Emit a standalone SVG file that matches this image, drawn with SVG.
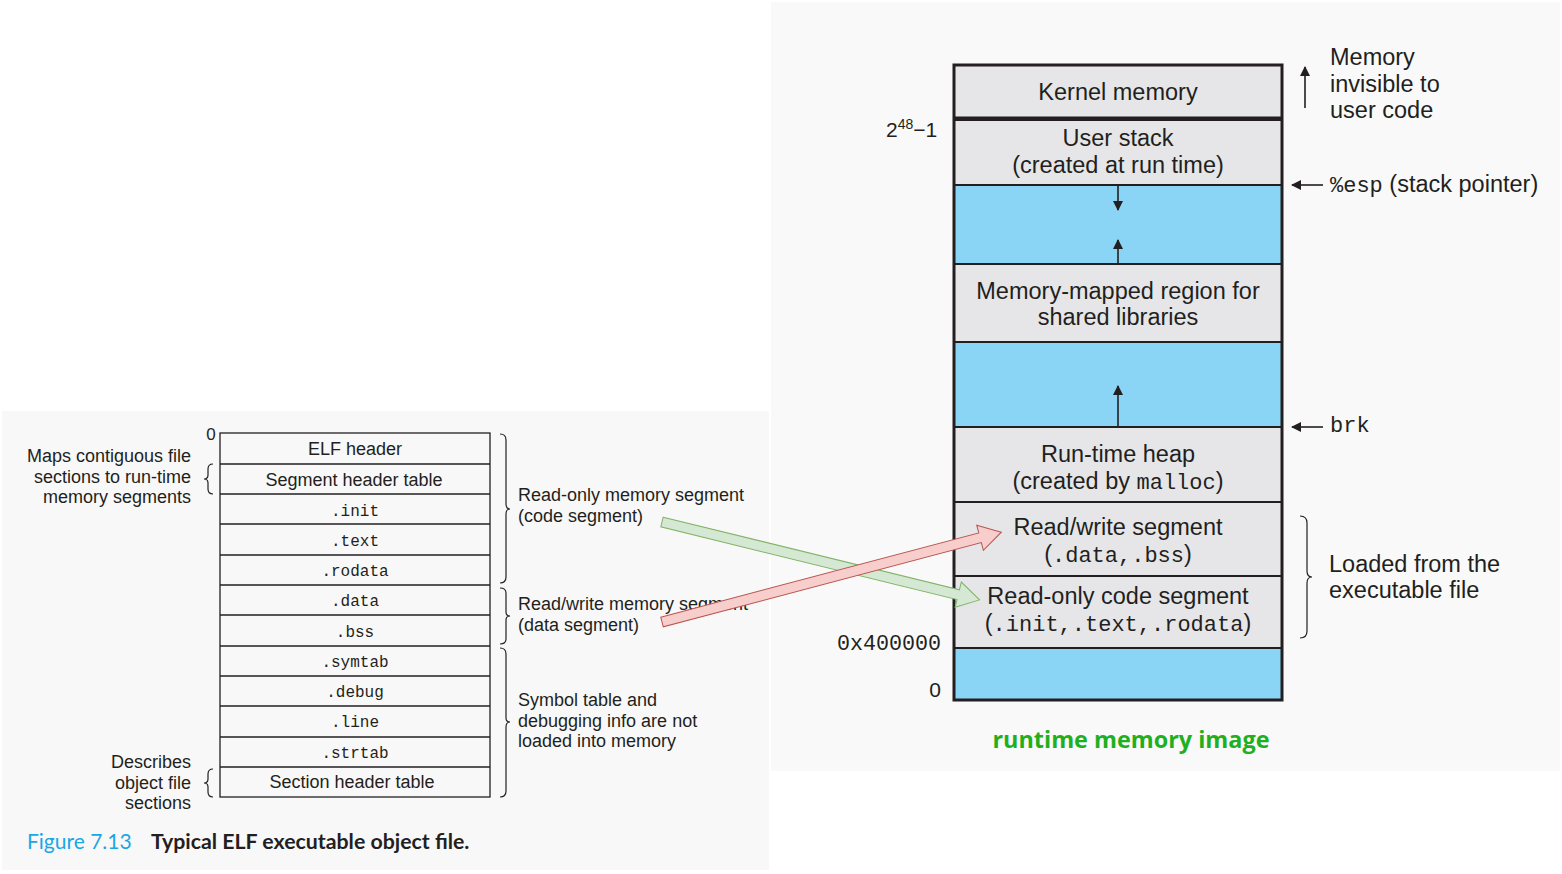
<svg xmlns="http://www.w3.org/2000/svg" width="1562" height="874" viewBox="0 0 1562 874">
<style>
.t{font-family:"Liberation Sans",Arial,sans-serif;fill:#231f20}
.m{font-family:"Liberation Mono","DejaVu Sans Mono",monospace;fill:#231f20}
.c{text-anchor:middle}
.r{text-anchor:end}
.cell{fill:none;stroke:#231f20;stroke-width:1.3}
.br{fill:none;stroke:#231f20;stroke-width:1.2}
.gray{fill:#e6e6e8;stroke:#231f20;stroke-width:2}
.blue{fill:#8ad4f5;stroke:#231f20;stroke-width:2}
.ln{stroke:#231f20;stroke-width:1.6;fill:none}
</style>
<defs>
<marker id="ah" viewBox="0 0 10 10" refX="9" refY="5" markerWidth="10" markerHeight="10" markerUnits="userSpaceOnUse" orient="auto"><path d="M0,0 L10,5 L0,10 z" fill="#231f20"/></marker>
</defs>
<rect x="0" y="0" width="1562" height="874" fill="#ffffff"/>
<rect x="2" y="411" width="767" height="459" fill="#f8f8f8"/>
<rect x="771" y="2" width="789" height="769" fill="#f9f9f9"/>

<g id="elf-table">
<text class="t" x="211" y="440" font-size="17" text-anchor="middle">0</text>
<rect class="cell" x="220" y="433" width="270" height="364"/>
<g class="cell">
<line x1="220" y1="464" x2="490" y2="464"/><line x1="220" y1="494" x2="490" y2="494"/>
<line x1="220" y1="524" x2="490" y2="524"/><line x1="220" y1="555" x2="490" y2="555"/>
<line x1="220" y1="585" x2="490" y2="585"/><line x1="220" y1="615" x2="490" y2="615"/>
<line x1="220" y1="646" x2="490" y2="646"/><line x1="220" y1="676" x2="490" y2="676"/>
<line x1="220" y1="706" x2="490" y2="706"/><line x1="220" y1="737" x2="490" y2="737"/>
<line x1="220" y1="767" x2="490" y2="767"/>
</g>
<text class="t c" x="355" y="455" font-size="18">ELF header</text>
<text class="t c" x="354" y="486" font-size="18">Segment header table</text>
<text class="m c" x="355" y="516" font-size="16">.init</text>
<text class="m c" x="355" y="546" font-size="16">.text</text>
<text class="m c" x="355" y="576" font-size="16">.rodata</text>
<text class="m c" x="355" y="606" font-size="16">.data</text>
<text class="m c" x="355" y="637" font-size="16">.bss</text>
<text class="m c" x="355" y="667" font-size="16">.symtab</text>
<text class="m c" x="355" y="697" font-size="16">.debug</text>
<text class="m c" x="355" y="727" font-size="16">.line</text>
<text class="m c" x="355" y="758" font-size="16">.strtab</text>
<text class="t c" x="352" y="788" font-size="18">Section header table</text>
</g>

<g id="left-labels">
<text class="t r" x="191" y="462" font-size="18">Maps contiguous file</text>
<text class="t r" x="191" y="483" font-size="18">sections to run-time</text>
<text class="t r" x="191" y="503" font-size="18">memory segments</text>
<path class="br" d="M213,464 Q208,464 208,469 L208,475 Q208,479 204,479 Q208,479 208,483 L208,489 Q208,494 213,494"/>
<text class="t r" x="191" y="768" font-size="18">Describes</text>
<text class="t r" x="191" y="789" font-size="18">object file</text>
<text class="t r" x="191" y="809" font-size="18">sections</text>
<path class="br" d="M213,769 Q208,769 208,774 L208,779 Q208,783 204,783 Q208,783 208,787 L208,792 Q208,797 213,797"/>
</g>

<g id="right-labels">
<path class="br" d="M500,434 Q506,434 506,440 L506,504 Q506,509 510,509 Q506,509 506,514 L506,577 Q506,583 500,583"/>
<text class="t" x="518" y="501" font-size="18">Read-only memory segment</text>
<text class="t" x="518" y="522" font-size="18">(code segment)</text>
<path class="br" d="M500,588 Q506,588 506,593 L506,612 Q506,616 510,616 Q506,616 506,620 L506,639 Q506,644 500,644"/>
<text class="t" x="518" y="610" font-size="18">Read/write memory segment</text>
<text class="t" x="518" y="631" font-size="18">(data segment)</text>
<path class="br" d="M500,648 Q506,648 506,654 L506,718 Q506,722 510,722 Q506,722 506,727 L506,791 Q506,797 500,797"/>
<text class="t" x="518" y="706" font-size="18">Symbol table and</text>
<text class="t" x="518" y="727" font-size="18">debugging info are not</text>
<text class="t" x="518" y="747" font-size="18">loaded into memory</text>
</g>

<g id="caption">
<text x="27" y="849" font-size="21" font-family="Lato,'Open Sans',sans-serif" fill="#1aa6e4">Figure 7.13</text>
<text x="151" y="849" font-size="21.3" font-weight="bold" font-family="Lato,'Open Sans',sans-serif" fill="#231f20">Typical ELF executable object file.</text>
</g>

<g id="memory-image">
<rect class="gray" x="954" y="65" width="328" height="53"/>
<rect class="gray" x="954" y="120" width="328" height="65"/>
<rect class="blue" x="954" y="185" width="328" height="79"/>
<rect class="gray" x="954" y="264" width="328" height="78"/>
<rect class="blue" x="954" y="342" width="328" height="85"/>
<rect class="gray" x="954" y="427" width="328" height="75"/>
<rect class="gray" x="954" y="502" width="328" height="74"/>
<rect class="gray" x="954" y="576" width="328" height="72"/>
<rect class="blue" x="954" y="648" width="328" height="52"/>
<rect x="954" y="65" width="328" height="635" fill="none" stroke="#231f20" stroke-width="3"/>
<line x1="954" y1="118.5" x2="1282" y2="118.5" stroke="#231f20" stroke-width="4"/>
<text class="t c" x="1118" y="100" font-size="23.5">Kernel memory</text>
<text class="t c" x="1118" y="146" font-size="23.5">User stack</text>
<text class="t c" x="1118" y="173" font-size="23.5">(created at run time)</text>
<text class="t c" x="1118" y="299" font-size="23.5">Memory-mapped region for</text>
<text class="t c" x="1118" y="325" font-size="23.5">shared libraries</text>
<text class="t c" x="1118" y="462" font-size="23.5">Run-time heap</text>
<text class="t c" x="1118" y="489" font-size="23.5">(created by <tspan class="m" font-size="22">malloc</tspan>)</text>
<text class="t c" x="1118" y="535" font-size="23.5">Read/write segment</text>
<text class="t c" x="1118" y="562" font-size="23.5">(<tspan class="m" font-size="22">.data,.bss</tspan>)</text>
<text class="t c" x="1118" y="604" font-size="23.5">Read-only code segment</text>
<text class="t c" x="1118" y="631" font-size="23.5">(<tspan class="m" font-size="22">.init,.text,.rodata</tspan>)</text>
<text class="t" x="886" y="137" font-size="21">2<tspan font-size="14" dy="-8">48</tspan><tspan dy="8">−1</tspan></text>
<text class="m r" x="941" y="650" font-size="21.7">0x400000</text>
<text class="t r" x="941" y="697" font-size="21">0</text>
</g>

<g id="annotations">
<text class="t" x="1330" y="65" font-size="23.5">Memory</text>
<text class="t" x="1330" y="92" font-size="23.5">invisible to</text>
<text class="t" x="1330" y="118" font-size="23.5">user code</text>
<text class="t" x="1330" y="192" font-size="23.5"><tspan class="m" font-size="22">%esp</tspan> (stack pointer)</text>
<text class="m" x="1330" y="432" font-size="22">brk</text>
<path class="br" d="M1300,516 Q1307,516 1307,523 L1307,571 Q1307,577 1312,577 Q1307,577 1307,583 L1307,631 Q1307,638 1300,638" stroke-width="1.4"/>
<text class="t" x="1329" y="572" font-size="23.5">Loaded from the</text>
<text class="t" x="1329" y="598" font-size="23.5">executable file</text>
<text x="1131" y="748" font-size="23.4" font-weight="bold" text-anchor="middle" font-family="'Open Sans',Lato,sans-serif" fill="#1eb01e">runtime memory image</text>
</g>

<g id="connectors">
<line class="ln" x1="1118" y1="185" x2="1118" y2="210" marker-end="url(#ah)"/>
<line class="ln" x1="1118" y1="264" x2="1118" y2="240" marker-end="url(#ah)"/>
<line class="ln" x1="1118" y1="427" x2="1118" y2="386" marker-end="url(#ah)"/>
<line class="ln" x1="1305" y1="108" x2="1305" y2="67" marker-end="url(#ah)"/>
<line class="ln" x1="1323" y1="185" x2="1292" y2="185" marker-end="url(#ah)"/>
<line class="ln" x1="1323" y1="427" x2="1292" y2="427" marker-end="url(#ah)"/>
<g transform="translate(662,522) rotate(13.78)">
<path d="M0,-5 L305,-5 L305,-13 L327,0 L305,13 L305,5 L0,5 Z" fill="#d5e8d4" stroke="#82b366" stroke-width="1"/>
</g>
<g transform="translate(662,622) rotate(-14.83)">
<path d="M0,-5 L329,-5 L329,-13 L351,0 L329,13 L329,5 L0,5 Z" fill="#f8cecc" stroke="#b85450" stroke-width="1"/>
</g>
</g>
</svg>
